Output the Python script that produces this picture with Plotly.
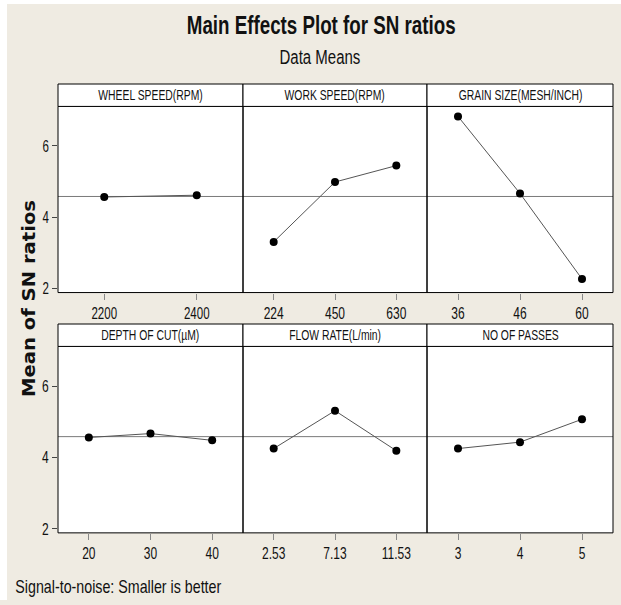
import plotly.graph_objects as go
import numpy as np

W, H = 621, 605

# ---- data ----
factor_names = ["WHEEL SPEED(RPM)", "WORK SPEED(RPM)", "GRAIN SIZE(MESH/INCH)",
                "DEPTH OF CUT(µM)", "FLOW RATE(L/min)", "NO OF PASSES"]
wheel_levels = ["2200", "2400"]
wheel_sn = [4.57, 4.62]
work_levels = ["224", "450", "630"]
work_sn = [3.31, 4.99, 5.45]
grain_levels = ["36", "46", "60"]
grain_sn = [6.83, 4.67, 2.27]
depth_levels = ["20", "30", "40"]
depth_sn = [4.56, 4.67, 4.48]
flow_levels = ["2.53", "7.13", "11.53"]
flow_sn = [4.25, 5.31, 4.19]
passes_levels = ["3", "4", "5"]
passes_sn = [4.25, 4.43, 5.07]
y_ticks = [2, 4, 6]

levels = [wheel_levels, work_levels, grain_levels, depth_levels, flow_levels, passes_levels]
values = [wheel_sn, work_sn, grain_sn, depth_sn, flow_sn, passes_sn]
grand_mean = float(np.mean([np.mean(v) for v in values]))

# ---- layout geometry (pixels) ----
col_x = [(58, 243), (243, 427), (427, 613)]
row_plot = [(107.3, 295.0), (349.3, 537.3)]
row_strip = [(84.7, 107.3), (326.7, 349.3)]


def px(x):
    return x / W


def py(y):
    return 1 - y / H


FONT = "Liberation Sans, Arial, sans-serif"
BG = "#efebe2"
INK = "#111111"

fig = go.Figure()
layout = dict(
    width=W, height=H,
    margin=dict(l=0, r=0, t=0, b=0),
    paper_bgcolor=BG, plot_bgcolor="white",
    showlegend=False,
    font=dict(family=FONT, color=INK, size=16),
)
shapes = []
annotations = []

for i in range(6):
    r, c = divmod(i, 3)
    n = i + 1
    xa = "x" if n == 1 else f"x{n}"
    ya = "y" if n == 1 else f"y{n}"
    xkey = "xaxis" if n == 1 else f"xaxis{n}"
    ykey = "yaxis" if n == 1 else f"yaxis{n}"
    lv = levels[i]
    # reference (grand mean) line
    shapes.append(dict(type="line", xref=f"{xa} domain", yref=ya,
                       x0=0, x1=1, y0=grand_mean, y1=grand_mean,
                       line=dict(color="#7a7a7a", width=1), layer="below"))
    fig.add_trace(go.Scatter(
        x=lv, y=values[i], xaxis=xa, yaxis=ya, mode="lines+markers",
        line=dict(color="#555555", width=1),
        marker=dict(color="black", size=8),
        hoverinfo="skip",
    ))
    x0, x1 = col_x[c]
    y0, y1 = row_plot[r]
    layout[xkey] = dict(
        domain=[px(x0), px(x1)], anchor=ya, type="category",
        categoryorder="array", categoryarray=lv,
        range=[-0.5, len(lv) - 0.5],
        showline=False, showgrid=False, zeroline=False,
        ticks="outside", ticklen=6, tickcolor="#888888",
        tickfont=dict(family=FONT, size=16, color=INK),
        fixedrange=True,
    )
    layout[ykey] = dict(
        domain=[py(y1), py(y0)], anchor=xa,
        range=[1.89, 7.11],
        tickvals=y_ticks,
        showline=False, showgrid=False, zeroline=False,
        ticks="outside" if c == 0 else "", ticklen=5, tickcolor="#444444",
        showticklabels=(c == 0),
        tickfont=dict(family=FONT, size=16, color=INK),
        fixedrange=True,
    )
    # plot frame
    shapes.append(dict(type="rect", xref=f"{xa} domain", yref=f"{ya} domain",
                       x0=0, x1=1, y0=0, y1=1,
                       line=dict(color="black", width=1)))
    # strip header
    s0, s1 = row_strip[r]
    shapes.append(dict(type="rect", xref="paper", yref="paper",
                       x0=px(x0), x1=px(x1), y0=py(s1), y1=py(s0),
                       fillcolor="white", line=dict(color="black", width=1)))
    annotations.append(dict(text=factor_names[i], xref="paper", yref="paper",
                            x=px((x0 + x1) / 2), y=py((s0 + s1) / 2),
                            xanchor="center", yanchor="middle", showarrow=False,
                            font=dict(family=FONT, size=14, color=INK)))

# thin white border on left/top of the page
shapes.append(dict(type="rect", xref="paper", yref="paper", x0=0, x1=px(7), y0=0, y1=1,
                   fillcolor="white", line=dict(width=0), layer="below"))
shapes.append(dict(type="rect", xref="paper", yref="paper", x0=0, x1=1, y0=py(4), y1=1,
                   fillcolor="white", line=dict(width=0), layer="below"))

annotations += [
    dict(text="Main Effects Plot for SN ratios", xref="paper", yref="paper",
         x=px(321), y=py(25), xanchor="center", yanchor="middle", showarrow=False,
         font=dict(family=FONT, size=25, color=INK, weight="bold")),
    dict(text="Data Means", xref="paper", yref="paper",
         x=px(320), y=py(57), xanchor="center", yanchor="middle", showarrow=False,
         font=dict(family=FONT, size=20, color=INK)),
    dict(text="Mean of SN ratios", xref="paper", yref="paper",
         x=px(29), y=py(301), xanchor="center", yanchor="middle", showarrow=False,
         textangle=-90,
         font=dict(family="DejaVu Sans, Verdana, sans-serif", size=17.5, color=INK, weight="bold")),
    dict(text="Signal-to-noise: Smaller is better", xref="paper", yref="paper",
         x=px(118.5), y=py(591), xanchor="center", yanchor="middle", showarrow=False,
         font=dict(family=FONT, size=19, color=INK)),
]

layout["shapes"] = shapes
layout["annotations"] = annotations
fig.update_layout(**layout)

# Remove the page margin and horizontally condense the (non-rotated) text,
# like the narrow Minitab lettering; the rotated axis title is stretched
# along its length instead.
post = """
(function(){
  document.body.style.margin = '0';
  document.body.style.padding = '0';
  var gd = document.getElementById('{plot_id}');
  var strips = %s;
  function factorFor(t){
    var txt = t.textContent || '';
    if (txt.indexOf('Mean of SN') >= 0) return 1.12;
    if (t.closest && (t.closest('.xtick') || t.closest('.ytick'))) return 0.72;
    if (strips.indexOf(txt) >= 0) return 0.74;
    return 0.75;
  }
  function squeeze(){
    gd.querySelectorAll('text').forEach(function(t){
      if (t.getAttribute('data-sq')) return;
      var L = t.getComputedTextLength();
      if (L > 0) {
        t.setAttribute('textLength', (L * factorFor(t)).toFixed(2));
        t.setAttribute('lengthAdjust', 'spacingAndGlyphs');
        t.setAttribute('data-sq', '1');
      }
    });
  }
  squeeze();
  if (gd.on) gd.on('plotly_afterplot', squeeze);
  setTimeout(squeeze, 50);
})();
""" % (str(factor_names).replace("'", '"'))
fig.write_html("out.html", post_script=post, config={"displayModeBar": False})
